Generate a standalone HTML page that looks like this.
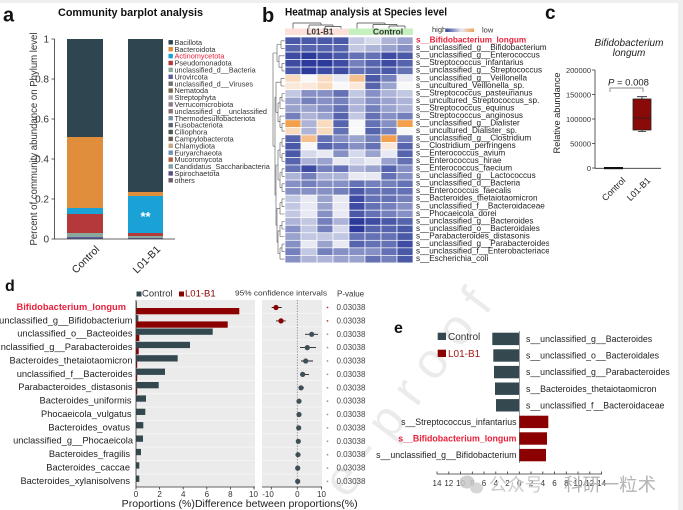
<!DOCTYPE html>
<html><head><meta charset="utf-8">
<style>
html,body{margin:0;padding:0;background:#fff;}
svg{display:block;font-family:"Liberation Sans",Arial,sans-serif;}
.A{fill:#2c3b9b}.B{fill:#3d4ba3}.C{fill:#4a58a8}.D{fill:#5664ae}.E{fill:#6471b4}.F{fill:#7480bc}.G{fill:#8690c4}.H{fill:#9aa2ce}.I{fill:#aeb4d8}.J{fill:#c2c7e2}.K{fill:#d6d9ec}.L{fill:#e8e9f3}.W{fill:#f8f8f8}.O{fill:#f2a04e}.P{fill:#f6c08e}.Q{fill:#f9dcc0}.R{fill:#fae8da}
#hm rect{stroke:#fff;stroke-width:0.7}
</style></head><body>
<svg width="683" height="510" viewBox="0 0 683 510" xmlns="http://www.w3.org/2000/svg">
<defs>
<linearGradient id="lg" x1="0" x2="1" y1="0" y2="0">
<stop offset="0" stop-color="#3a4aa0"/><stop offset="0.55" stop-color="#e6e7f0"/><stop offset="1" stop-color="#f0a050"/>
</linearGradient>
<clipPath id="clb"><rect x="400" y="30" width="149" height="240"/></clipPath>
</defs>
<rect width="683" height="510" fill="#fff"/>
<rect x="0" y="0" width="683" height="3" fill="#efefef"/>
<rect x="678" y="0" width="5" height="510" fill="#efefef"/>

<!-- big watermark -->
<text x="347" y="500" transform="rotate(-53 347 500)" font-size="50" fill="#ebebeb" textLength="244" lengthAdjust="spacing">e-proof</text>

<!-- ============ Panel a ============ -->
<text x="3" y="21.5" font-size="20" font-weight="bold" fill="#111">a</text>
<text x="130.5" y="16" font-size="11" font-weight="bold" text-anchor="middle" textLength="145" lengthAdjust="spacingAndGlyphs" fill="#111">Community barplot analysis</text>
<text transform="translate(37,139) rotate(-90)" font-size="10.5" text-anchor="middle" textLength="213" lengthAdjust="spacingAndGlyphs" fill="#333">Percent of community abundance on Phylum level</text>
<g font-size="10" fill="#333" text-anchor="end">
<text x="49" y="42.5">1</text>
<text x="49" y="82.5">0.8</text>
<text x="49" y="122.5">0.6</text>
<text x="49" y="162.5">0.4</text>
<text x="49" y="202.5">0.2</text>
<text x="49" y="242.5">0</text>
</g>
<!-- bars -->
<rect x="67" y="39" width="36" height="98" fill="#2f4550"/>
<rect x="67" y="137" width="36" height="71" fill="#e08d3c"/>
<rect x="67" y="208" width="36" height="6" fill="#1aa1d6"/>
<rect x="67" y="214" width="36" height="19" fill="#b5383a"/>
<rect x="67" y="233" width="36" height="4" fill="#8aa89c"/>
<rect x="67" y="237" width="36" height="2" fill="#5b5f9e"/>
<rect x="128" y="39" width="35" height="153" fill="#2f4550"/>
<rect x="128" y="192" width="35" height="4" fill="#e08d3c"/>
<rect x="128" y="196" width="35" height="37" fill="#1aa1d6"/>
<rect x="128" y="233" width="35" height="3" fill="#b5383a"/>
<rect x="128" y="236" width="35" height="2" fill="#8aa89c"/>
<rect x="128" y="238" width="35" height="1" fill="#5b5f9e"/>
<text x="145.5" y="221" font-size="13" font-weight="bold" fill="#fff" text-anchor="middle">**</text>
<g stroke="#333" stroke-width="0.8" fill="none">
<path d="M54.5 39V239H175"/>
<path d="M51.5 39H54.5M51.5 79H54.5M51.5 119H54.5M51.5 159H54.5M51.5 199H54.5M51.5 239H54.5"/>
</g>
<text transform="translate(100,250) rotate(-45)" font-size="10.5" text-anchor="end" fill="#222">Control</text>
<text transform="translate(161,250) rotate(-45)" font-size="10.5" text-anchor="end" fill="#222">L01-B1</text>
<!-- legend -->
<g font-size="7.3" fill="#333">
<rect x="168.5" y="40.1" width="4.4" height="4.4" fill="#2f4550"/><text x="174.5" y="44.9">Bacillota</text>
<rect x="168.5" y="47" width="4.4" height="4.4" fill="#e08d3c"/><text x="174.5" y="51.8">Bacteroidota</text>
<rect x="168.5" y="53.9" width="4.4" height="4.4" fill="#1aa1d6"/><text x="174.5" y="58.7" fill="#e8203a">Actinomycetota</text>
<rect x="168.5" y="60.8" width="4.4" height="4.4" fill="#b5383a"/><text x="174.5" y="65.6">Pseudomonadota</text>
<rect x="168.5" y="67.7" width="4.4" height="4.4" fill="#8aa89c"/><text x="174.5" y="72.5">unclassified_d__Bacteria</text>
<rect x="168.5" y="74.6" width="4.4" height="4.4" fill="#5b5f9e"/><text x="174.5" y="79.4">Urovircota</text>
<rect x="168.5" y="81.5" width="4.4" height="4.4" fill="#707070"/><text x="174.5" y="86.3">unclassified_d__Viruses</text>
<rect x="168.5" y="88.4" width="4.4" height="4.4" fill="#7d6b52"/><text x="174.5" y="93.2">Nematoda</text>
<rect x="168.5" y="95.3" width="4.4" height="4.4" fill="#a8a8a8"/><text x="174.5" y="100.1">Streptophyta</text>
<rect x="168.5" y="102.2" width="4.4" height="4.4" fill="#8c7c8c"/><text x="174.5" y="107">Verrucomicrobiota</text>
<rect x="168.5" y="109.1" width="4.4" height="4.4" fill="#8e7272"/><text x="174.5" y="113.9">unclassified_d__unclassified</text>
<rect x="168.5" y="116" width="4.4" height="4.4" fill="#7f90a6"/><text x="174.5" y="120.8">Thermodesulfobacteriota</text>
<rect x="168.5" y="122.9" width="4.4" height="4.4" fill="#5e6272"/><text x="174.5" y="127.7">Fusobacteriota</text>
<rect x="168.5" y="129.8" width="4.4" height="4.4" fill="#4e5a52"/><text x="174.5" y="134.6">Ciliophora</text>
<rect x="168.5" y="136.7" width="4.4" height="4.4" fill="#6c5c52"/><text x="174.5" y="141.5">Campylobacterota</text>
<rect x="168.5" y="143.6" width="4.4" height="4.4" fill="#c6a684"/><text x="174.5" y="148.4">Chlamydiota</text>
<rect x="168.5" y="150.5" width="4.4" height="4.4" fill="#7294b4"/><text x="174.5" y="155.3">Euryarchaeota</text>
<rect x="168.5" y="157.4" width="4.4" height="4.4" fill="#b0603e"/><text x="174.5" y="162.2">Mucoromycota</text>
<rect x="168.5" y="164.3" width="4.4" height="4.4" fill="#7ea2a2"/><text x="174.5" y="169.1">Candidatus_Saccharibacteria</text>
<rect x="168.5" y="171.2" width="4.4" height="4.4" fill="#5c4e80"/><text x="174.5" y="176">Spirochaetota</text>
<rect x="168.5" y="178.1" width="4.4" height="4.4" fill="#6e5e6e"/><text x="174.5" y="182.9">others</text>
</g>

<!-- ============ Panel b ============ -->
<text x="262" y="22" font-size="20" font-weight="bold" fill="#111">b</text>
<text x="285" y="15.5" font-size="11" font-weight="bold" textLength="162" lengthAdjust="spacingAndGlyphs" fill="#111">Heatmap analysis at Species level</text>
<path d="M325 29V26.5M341 29V26.5M325 26.5H341M309 29V25M333 26.5V25M309 25H333M293 29V23M321 25V23M293 23H321M389 29V26M405 29V26M389 26H405M373 29V24.5M397 26V24.5M373 24.5H397M357 29V23M385 24.5V23M357 23H385" stroke="#444" stroke-width="0.7" fill="none"/>
<rect x="285" y="28.5" width="64" height="6.5" fill="#fde0da"/>
<rect x="349" y="28.5" width="64" height="6.5" fill="#c6f1bf"/>
<text x="320" y="34.3" font-size="8" font-weight="bold" text-anchor="middle" fill="#333">L01-B1</text>
<text x="388" y="34.3" font-size="8.5" font-weight="bold" text-anchor="middle" fill="#333">Control</text>
<text x="432" y="32" font-size="7.5" fill="#333">high</text>
<rect x="446" y="28.5" width="28" height="3.5" fill="url(#lg)"/>
<text x="482" y="32.5" font-size="7.5" fill="#333">low</text>
<path d="M285 40.8H281M285 48.3H281M281 40.8V48.3M285 63.4H282M285 70.9H282M282 63.4V70.9M285 55.8H279M282 67.2H279M279 55.8V67.2M281 44.5H277M279 61.5H277M277 44.5V61.5M285 78.4H281M285 86H281M281 78.4V86M285 93.5H282M285 101H282M282 93.5V101M285 108.5H280M282 97.3H280M280 97.3V108.5M285 123.6H282M285 131.1H282M282 123.6V131.1M285 116.1H280M282 127.4H280M280 116.1V127.4M280 102.9H278M280 121.7H278M278 102.9V121.7M281 82.2H276M278 112.3H276M276 82.2V112.3M285 138.7H282M285 146.2H282M282 138.7V146.2M285 153.7H282M285 161.3H282M282 153.7V161.3M282 142.5H280M282 157.5H280M280 142.5V157.5M285 168.8H282M285 176.3H282M282 168.8V176.3M285 183.8H282M285 191.4H282M282 183.8V191.4M282 172.5H280M282 187.6H280M280 172.5V187.6M280 150H278M280 180H278M278 150V180M285 198.9H282M285 206.4H282M282 198.9V206.4M285 214H280M282 202.7H280M280 202.7V214M285 221.5H282M285 229H282M282 221.5V229M285 236.5H280M282 225.3H280M280 225.3V236.5M285 244.1H282M285 251.6H282M282 244.1V251.6M285 259.1H280M282 247.9H280M280 247.9V259.1M280 230.9H278M280 253.5H278M278 230.9V253.5M280 208.3H277M278 242.2H277M277 208.3V242.2M278 165H276M277 225.3H276M276 165V225.3M276 97.2H275M276 195.1H275M275 97.2V195.1M277 53H273M275 146.2H273M273 53V146.2" stroke="#555" stroke-width="0.6" fill="none"/>
<g id="hm">
<g transform="translate(285,37)"><rect class="C" x="0" width="16" height="7.53"/><rect class="C" x="16" width="16" height="7.53"/><rect class="C" x="32" width="16" height="7.53"/><rect class="C" x="48" width="16" height="7.53"/><rect class="J" x="64" width="16" height="7.53"/><rect class="K" x="80" width="16" height="7.53"/><rect class="I" x="96" width="16" height="7.53"/><rect class="H" x="112" width="16" height="7.53"/></g>
<g transform="translate(285,44.53)"><rect class="D" x="0" width="16" height="7.53"/><rect class="D" x="16" width="16" height="7.53"/><rect class="D" x="32" width="16" height="7.53"/><rect class="D" x="48" width="16" height="7.53"/><rect class="J" x="64" width="16" height="7.53"/><rect class="I" x="80" width="16" height="7.53"/><rect class="H" x="96" width="16" height="7.53"/><rect class="G" x="112" width="16" height="7.53"/></g>
<g transform="translate(285,52.06)"><rect class="B" x="0" width="16" height="7.53"/><rect class="A" x="16" width="16" height="7.53"/><rect class="B" x="32" width="16" height="7.53"/><rect class="C" x="48" width="16" height="7.53"/><rect class="E" x="64" width="16" height="7.53"/><rect class="E" x="80" width="16" height="7.53"/><rect class="B" x="96" width="16" height="7.53"/><rect class="C" x="112" width="16" height="7.53"/></g>
<g transform="translate(285,59.59)"><rect class="B" x="0" width="16" height="7.53"/><rect class="A" x="16" width="16" height="7.53"/><rect class="A" x="32" width="16" height="7.53"/><rect class="B" x="48" width="16" height="7.53"/><rect class="F" x="64" width="16" height="7.53"/><rect class="D" x="80" width="16" height="7.53"/><rect class="B" x="96" width="16" height="7.53"/><rect class="D" x="112" width="16" height="7.53"/></g>
<g transform="translate(285,67.12)"><rect class="C" x="0" width="16" height="7.53"/><rect class="A" x="16" width="16" height="7.53"/><rect class="B" x="32" width="16" height="7.53"/><rect class="B" x="48" width="16" height="7.53"/><rect class="E" x="64" width="16" height="7.53"/><rect class="D" x="80" width="16" height="7.53"/><rect class="C" x="96" width="16" height="7.53"/><rect class="E" x="112" width="16" height="7.53"/></g>
<g transform="translate(285,74.65)"><rect class="Q" x="0" width="16" height="7.53"/><rect class="W" x="16" width="16" height="7.53"/><rect class="Q" x="32" width="16" height="7.53"/><rect class="L" x="48" width="16" height="7.53"/><rect class="P" x="64" width="16" height="7.53"/><rect class="C" x="80" width="16" height="7.53"/><rect class="F" x="96" width="16" height="7.53"/><rect class="L" x="112" width="16" height="7.53"/></g>
<g transform="translate(285,82.18)"><rect class="R" x="0" width="16" height="7.53"/><rect class="R" x="16" width="16" height="7.53"/><rect class="Q" x="32" width="16" height="7.53"/><rect class="W" x="48" width="16" height="7.53"/><rect class="R" x="64" width="16" height="7.53"/><rect class="D" x="80" width="16" height="7.53"/><rect class="H" x="96" width="16" height="7.53"/><rect class="W" x="112" width="16" height="7.53"/></g>
<g transform="translate(285,89.71)"><rect class="J" x="0" width="16" height="7.53"/><rect class="G" x="16" width="16" height="7.53"/><rect class="G" x="32" width="16" height="7.53"/><rect class="E" x="48" width="16" height="7.53"/><rect class="J" x="64" width="16" height="7.53"/><rect class="G" x="80" width="16" height="7.53"/><rect class="I" x="96" width="16" height="7.53"/><rect class="J" x="112" width="16" height="7.53"/></g>
<g transform="translate(285,97.24)"><rect class="H" x="0" width="16" height="7.53"/><rect class="F" x="16" width="16" height="7.53"/><rect class="G" x="32" width="16" height="7.53"/><rect class="F" x="48" width="16" height="7.53"/><rect class="I" x="64" width="16" height="7.53"/><rect class="G" x="80" width="16" height="7.53"/><rect class="H" x="96" width="16" height="7.53"/><rect class="I" x="112" width="16" height="7.53"/></g>
<g transform="translate(285,104.77)"><rect class="H" x="0" width="16" height="7.53"/><rect class="H" x="16" width="16" height="7.53"/><rect class="G" x="32" width="16" height="7.53"/><rect class="E" x="48" width="16" height="7.53"/><rect class="I" x="64" width="16" height="7.53"/><rect class="F" x="80" width="16" height="7.53"/><rect class="H" x="96" width="16" height="7.53"/><rect class="I" x="112" width="16" height="7.53"/></g>
<g transform="translate(285,112.3)"><rect class="F" x="0" width="16" height="7.53"/><rect class="I" x="16" width="16" height="7.53"/><rect class="H" x="32" width="16" height="7.53"/><rect class="D" x="48" width="16" height="7.53"/><rect class="J" x="64" width="16" height="7.53"/><rect class="E" x="80" width="16" height="7.53"/><rect class="G" x="96" width="16" height="7.53"/><rect class="F" x="112" width="16" height="7.53"/></g>
<g transform="translate(285,119.83)"><rect class="O" x="0" width="16" height="7.53"/><rect class="I" x="16" width="16" height="7.53"/><rect class="Q" x="32" width="16" height="7.53"/><rect class="D" x="48" width="16" height="7.53"/><rect class="W" x="64" width="16" height="7.53"/><rect class="E" x="80" width="16" height="7.53"/><rect class="G" x="96" width="16" height="7.53"/><rect class="O" x="112" width="16" height="7.53"/></g>
<g transform="translate(285,127.36)"><rect class="Q" x="0" width="16" height="7.53"/><rect class="I" x="16" width="16" height="7.53"/><rect class="Q" x="32" width="16" height="7.53"/><rect class="E" x="48" width="16" height="7.53"/><rect class="W" x="64" width="16" height="7.53"/><rect class="D" x="80" width="16" height="7.53"/><rect class="F" x="96" width="16" height="7.53"/><rect class="W" x="112" width="16" height="7.53"/></g>
<g transform="translate(285,134.89)"><rect class="D" x="0" width="16" height="7.53"/><rect class="P" x="16" width="16" height="7.53"/><rect class="E" x="32" width="16" height="7.53"/><rect class="G" x="48" width="16" height="7.53"/><rect class="H" x="64" width="16" height="7.53"/><rect class="F" x="80" width="16" height="7.53"/><rect class="O" x="96" width="16" height="7.53"/><rect class="F" x="112" width="16" height="7.53"/></g>
<g transform="translate(285,142.42)"><rect class="C" x="0" width="16" height="7.53"/><rect class="W" x="16" width="16" height="7.53"/><rect class="D" x="32" width="16" height="7.53"/><rect class="E" x="48" width="16" height="7.53"/><rect class="G" x="64" width="16" height="7.53"/><rect class="E" x="80" width="16" height="7.53"/><rect class="R" x="96" width="16" height="7.53"/><rect class="D" x="112" width="16" height="7.53"/></g>
<g transform="translate(285,149.95)"><rect class="C" x="0" width="16" height="7.53"/><rect class="K" x="16" width="16" height="7.53"/><rect class="L" x="32" width="16" height="7.53"/><rect class="G" x="48" width="16" height="7.53"/><rect class="K" x="64" width="16" height="7.53"/><rect class="H" x="80" width="16" height="7.53"/><rect class="L" x="96" width="16" height="7.53"/><rect class="D" x="112" width="16" height="7.53"/></g>
<g transform="translate(285,157.48)"><rect class="D" x="0" width="16" height="7.53"/><rect class="I" x="16" width="16" height="7.53"/><rect class="H" x="32" width="16" height="7.53"/><rect class="L" x="48" width="16" height="7.53"/><rect class="K" x="64" width="16" height="7.53"/><rect class="L" x="80" width="16" height="7.53"/><rect class="H" x="96" width="16" height="7.53"/><rect class="E" x="112" width="16" height="7.53"/></g>
<g transform="translate(285,165.01)"><rect class="E" x="0" width="16" height="7.53"/><rect class="B" x="16" width="16" height="7.53"/><rect class="F" x="32" width="16" height="7.53"/><rect class="E" x="48" width="16" height="7.53"/><rect class="I" x="64" width="16" height="7.53"/><rect class="H" x="80" width="16" height="7.53"/><rect class="D" x="96" width="16" height="7.53"/><rect class="G" x="112" width="16" height="7.53"/></g>
<g transform="translate(285,172.54)"><rect class="I" x="0" width="16" height="7.53"/><rect class="F" x="16" width="16" height="7.53"/><rect class="I" x="32" width="16" height="7.53"/><rect class="I" x="48" width="16" height="7.53"/><rect class="L" x="64" width="16" height="7.53"/><rect class="L" x="80" width="16" height="7.53"/><rect class="E" x="96" width="16" height="7.53"/><rect class="G" x="112" width="16" height="7.53"/></g>
<g transform="translate(285,180.07)"><rect class="G" x="0" width="16" height="7.53"/><rect class="F" x="16" width="16" height="7.53"/><rect class="G" x="32" width="16" height="7.53"/><rect class="G" x="48" width="16" height="7.53"/><rect class="E" x="64" width="16" height="7.53"/><rect class="F" x="80" width="16" height="7.53"/><rect class="F" x="96" width="16" height="7.53"/><rect class="E" x="112" width="16" height="7.53"/></g>
<g transform="translate(285,187.6)"><rect class="G" x="0" width="16" height="7.53"/><rect class="G" x="16" width="16" height="7.53"/><rect class="G" x="32" width="16" height="7.53"/><rect class="F" x="48" width="16" height="7.53"/><rect class="C" x="64" width="16" height="7.53"/><rect class="E" x="80" width="16" height="7.53"/><rect class="E" x="96" width="16" height="7.53"/><rect class="E" x="112" width="16" height="7.53"/></g>
<g transform="translate(285,195.13)"><rect class="J" x="0" width="16" height="7.53"/><rect class="L" x="16" width="16" height="7.53"/><rect class="H" x="32" width="16" height="7.53"/><rect class="L" x="48" width="16" height="7.53"/><rect class="B" x="64" width="16" height="7.53"/><rect class="E" x="80" width="16" height="7.53"/><rect class="E" x="96" width="16" height="7.53"/><rect class="F" x="112" width="16" height="7.53"/></g>
<g transform="translate(285,202.66)"><rect class="J" x="0" width="16" height="7.53"/><rect class="L" x="16" width="16" height="7.53"/><rect class="H" x="32" width="16" height="7.53"/><rect class="L" x="48" width="16" height="7.53"/><rect class="B" x="64" width="16" height="7.53"/><rect class="E" x="80" width="16" height="7.53"/><rect class="F" x="96" width="16" height="7.53"/><rect class="G" x="112" width="16" height="7.53"/></g>
<g transform="translate(285,210.19)"><rect class="J" x="0" width="16" height="7.53"/><rect class="L" x="16" width="16" height="7.53"/><rect class="G" x="32" width="16" height="7.53"/><rect class="L" x="48" width="16" height="7.53"/><rect class="C" x="64" width="16" height="7.53"/><rect class="E" x="80" width="16" height="7.53"/><rect class="F" x="96" width="16" height="7.53"/><rect class="G" x="112" width="16" height="7.53"/></g>
<g transform="translate(285,217.72)"><rect class="I" x="0" width="16" height="7.53"/><rect class="J" x="16" width="16" height="7.53"/><rect class="F" x="32" width="16" height="7.53"/><rect class="I" x="48" width="16" height="7.53"/><rect class="A" x="64" width="16" height="7.53"/><rect class="B" x="80" width="16" height="7.53"/><rect class="C" x="96" width="16" height="7.53"/><rect class="D" x="112" width="16" height="7.53"/></g>
<g transform="translate(285,225.25)"><rect class="G" x="0" width="16" height="7.53"/><rect class="J" x="16" width="16" height="7.53"/><rect class="F" x="32" width="16" height="7.53"/><rect class="K" x="48" width="16" height="7.53"/><rect class="A" x="64" width="16" height="7.53"/><rect class="D" x="80" width="16" height="7.53"/><rect class="D" x="96" width="16" height="7.53"/><rect class="C" x="112" width="16" height="7.53"/></g>
<g transform="translate(285,232.78)"><rect class="H" x="0" width="16" height="7.53"/><rect class="J" x="16" width="16" height="7.53"/><rect class="J" x="32" width="16" height="7.53"/><rect class="J" x="48" width="16" height="7.53"/><rect class="E" x="64" width="16" height="7.53"/><rect class="E" x="80" width="16" height="7.53"/><rect class="E" x="96" width="16" height="7.53"/><rect class="C" x="112" width="16" height="7.53"/></g>
<g transform="translate(285,240.31)"><rect class="G" x="0" width="16" height="7.53"/><rect class="L" x="16" width="16" height="7.53"/><rect class="H" x="32" width="16" height="7.53"/><rect class="L" x="48" width="16" height="7.53"/><rect class="D" x="64" width="16" height="7.53"/><rect class="E" x="80" width="16" height="7.53"/><rect class="E" x="96" width="16" height="7.53"/><rect class="B" x="112" width="16" height="7.53"/></g>
<g transform="translate(285,247.84)"><rect class="F" x="0" width="16" height="7.53"/><rect class="J" x="16" width="16" height="7.53"/><rect class="F" x="32" width="16" height="7.53"/><rect class="G" x="48" width="16" height="7.53"/><rect class="G" x="64" width="16" height="7.53"/><rect class="G" x="80" width="16" height="7.53"/><rect class="E" x="96" width="16" height="7.53"/><rect class="C" x="112" width="16" height="7.53"/></g>
<g transform="translate(285,255.37)"><rect class="G" x="0" width="16" height="7.53"/><rect class="I" x="16" width="16" height="7.53"/><rect class="I" x="32" width="16" height="7.53"/><rect class="H" x="48" width="16" height="7.53"/><rect class="H" x="64" width="16" height="7.53"/><rect class="E" x="80" width="16" height="7.53"/><rect class="F" x="96" width="16" height="7.53"/><rect class="C" x="112" width="16" height="7.53"/></g>
</g>
<g font-size="8.2" fill="#222" clip-path="url(#clb)">
<text x="416" y="42.6" fill="#e8203a" font-weight="bold">s__Bifidobacterium_longum</text>
<text x="416" y="50.1">s__unclassified_g__Bifidobacterium</text>
<text x="416" y="57.7">s__unclassified_g__Enterococcus</text>
<text x="416" y="65.2">s__Streptococcus_infantarius</text>
<text x="416" y="72.7">s__unclassified_g__Streptococcus</text>
<text x="416" y="80.3">s__unclassified_g__Veillonella</text>
<text x="416" y="87.8">s__uncultured_Veillonella_sp.</text>
<text x="416" y="95.3">s__Streptococcus_pasteurianus</text>
<text x="416" y="102.8">s__uncultured_Streptococcus_sp.</text>
<text x="416" y="110.4">s__Streptococcus_equinus</text>
<text x="416" y="117.9">s__Streptococcus_anginosus</text>
<text x="416" y="125.4">s__unclassified_g__Dialister</text>
<text x="416" y="133">s__uncultured_Dialister_sp.</text>
<text x="416" y="140.5">s__unclassified_g__Clostridium</text>
<text x="416" y="148">s__Clostridium_perfringens</text>
<text x="416" y="155.6">s__Enterococcus_avium</text>
<text x="416" y="163.1">s__Enterococcus_hirae</text>
<text x="416" y="170.6">s__Enterococcus_faecium</text>
<text x="416" y="178.1">s__unclassified_g__Lactococcus</text>
<text x="416" y="185.7">s__unclassified_d__Bacteria</text>
<text x="416" y="193.2">s__Enterococcus_faecalis</text>
<text x="416" y="200.7">s__Bacteroides_thetaiotaomicron</text>
<text x="416" y="208.3">s__unclassified_f__Bacteroidaceae</text>
<text x="416" y="215.8">s__Phocaeicola_dorei</text>
<text x="416" y="223.3">s__unclassified_g__Bacteroides</text>
<text x="416" y="230.9">s__unclassified_o__Bacteroidales</text>
<text x="416" y="238.4">s__Parabacteroides_distasonis</text>
<text x="416" y="245.9">s__unclassified_g__Parabacteroides</text>
<text x="416" y="253.4">s__unclassified_f__Enterobacteriaceae</text>
<text x="416" y="261">s__Escherichia_coli</text>
</g>

<!-- ============ Panel c ============ -->
<text x="545" y="19" font-size="19" font-weight="bold" fill="#111">c</text>
<text x="629" y="46" font-size="10" font-style="italic" text-anchor="middle" fill="#222">Bifidobacterium</text>
<text x="629" y="56" font-size="10" font-style="italic" text-anchor="middle" fill="#222">longum</text>
<text transform="translate(560,113) rotate(-90)" font-size="9" text-anchor="middle" textLength="81" lengthAdjust="spacingAndGlyphs" fill="#222">Relative abundance</text>
<g font-size="7.5" fill="#333" text-anchor="end">
<text x="591" y="72.8">200000</text>
<text x="591" y="97.3">150000</text>
<text x="591" y="121.8">100000</text>
<text x="591" y="146.3">50000</text>
<text x="591" y="170.8">0</text>
</g>
<g stroke="#333" stroke-width="0.8" fill="none">
<path d="M595 70V168.3H661"/>
<path d="M592 70H595M592 94.5H595M592 119H595M592 143.5H595M592 168H595"/>
</g>
<rect x="604" y="167" width="19" height="2.2" fill="#111"/>
<path d="M642 99V96.7M637 96.7H647M642 130V131.5M638 131.5H646" stroke="#222" stroke-width="0.8"/>
<rect x="633" y="99" width="18" height="31" fill="#8a0a0a" stroke="#222" stroke-width="0.8"/>
<line x1="633" y1="118" x2="651" y2="118" stroke="#222" stroke-width="0.8"/>
<path d="M610 92V88H643V92" stroke="#8a8a8a" stroke-width="0.9" fill="none"/>
<text x="608" y="85.5" font-size="9.5" fill="#222"><tspan font-style="italic">P</tspan> = 0.008</text>
<text transform="translate(626,181) rotate(-45)" font-size="9" text-anchor="end" fill="#222">Control</text>
<text transform="translate(651,181) rotate(-45)" font-size="9" text-anchor="end" fill="#222">L01-B1</text>

<!-- ============ Panel d ============ -->
<text x="5" y="291" font-size="16" font-weight="bold" fill="#111">d</text>
<rect x="136.5" y="291.5" width="5" height="5" fill="#34494f"/>
<text x="142" y="296.5" font-size="9.5" fill="#333">Control</text>
<rect x="179" y="291.5" width="5" height="5" fill="#8b0000"/>
<text x="185" y="296.5" font-size="9.5" fill="#8b0000">L01-B1</text>
<text x="235" y="295.5" font-size="7.6" fill="#333" textLength="92" lengthAdjust="spacingAndGlyphs">95% confidence intervals</text>
<text x="337" y="296.5" font-size="8" fill="#333">P-value</text>
<rect x="136" y="300" width="119" height="187" fill="#ebebeb"/>
<rect x="262" y="300" width="60" height="187" fill="#ebebeb"/>
<g stroke="#f7f7f7" stroke-width="0.8">
<path d="M136 313.4H255M136 326.8H255M136 340.2H255M136 353.5H255M136 366.9H255M136 380.3H255M136 393.7H255M136 407H255M136 420.4H255M136 433.8H255M136 447.2H255M136 460.6H255M136 474H255"/>
<path d="M262 313.4H322M262 326.8H322M262 340.2H322M262 353.5H322M262 366.9H322M262 380.3H322M262 393.7H322M262 407H322M262 420.4H322M262 433.8H322M262 447.2H322M262 460.6H322M262 474H322"/>
</g>
<g fill="#34494f">
<rect x="136" y="301.7" width="0.8" height="6.3"/>
<rect x="136" y="315.1" width="2.3" height="6.3"/>
<rect x="136" y="328.5" width="76.7" height="6.3"/>
<rect x="136" y="341.8" width="54" height="6.3"/>
<rect x="136" y="355.2" width="41.7" height="6.3"/>
<rect x="136" y="368.6" width="29" height="6.3"/>
<rect x="136" y="382" width="22.7" height="6.3"/>
<rect x="136" y="395.4" width="10" height="6.3"/>
<rect x="136" y="408.7" width="9.3" height="6.3"/>
<rect x="136" y="422.1" width="7.3" height="6.3"/>
<rect x="136" y="435.5" width="7" height="6.3"/>
<rect x="136" y="448.9" width="5" height="6.3"/>
<rect x="136" y="462.3" width="3.3" height="6.3"/>
<rect x="136" y="475.6" width="3.3" height="6.3"/>
</g>
<g fill="#8b0000">
<rect x="136" y="308" width="103.3" height="6.3"/>
<rect x="136" y="321.4" width="91.7" height="6.3"/>
<rect x="136" y="334.8" width="3.3" height="6.3"/>
<rect x="136" y="348.1" width="2.7" height="6.3"/>
<rect x="136" y="361.5" width="1.2" height="6.3"/>
<rect x="136" y="374.9" width="1.2" height="6.3"/>
<rect x="136" y="388.3" width="1.2" height="6.3"/>
</g>
<g stroke="#333" stroke-width="0.8" fill="none">
<path d="M136 300V487H255"/>
<path d="M136 487V489.5M159.6 487V489.5M183.2 487V489.5M206.8 487V489.5M230.4 487V489.5M254 487V489.5"/>
<path d="M262 487H322M271.3 487V489.5M297.3 487V489.5M321.5 487V489.5"/>
</g>
<g font-size="8" fill="#333" text-anchor="middle">
<text x="136" y="497">0</text><text x="159.6" y="497">2</text><text x="183.2" y="497">4</text><text x="206.8" y="497">6</text><text x="230.4" y="497">8</text><text x="253.5" y="497">10</text>
<text x="268" y="497">-10</text><text x="297.3" y="497">0</text><text x="321.5" y="497">10</text>
</g>
<line x1="297.3" y1="300" x2="297.3" y2="487" stroke="#777" stroke-width="0.8" stroke-dasharray="1.2,1.5"/>
<g stroke="#222" stroke-width="0.9">
<path d="M271.7 307.5H281.7M276 320.9H285.7M305 334.3H318M300 347.6H316M301 361H313M300 374.4H309M299 387.8H304M298 401.2H300.5"/>
</g>
<g fill="#8b0000"><circle cx="276" cy="307.5" r="2.6"/><circle cx="281" cy="320.9" r="2.6"/></g>
<g fill="#3e4f55">
<circle cx="311.7" cy="334.3" r="2.6"/><circle cx="307.3" cy="347.6" r="2.6"/><circle cx="305.7" cy="361" r="2.6"/><circle cx="302.7" cy="374.4" r="2.6"/><circle cx="301" cy="387.8" r="2.6"/><circle cx="299" cy="401.2" r="2.6"/><circle cx="299" cy="414.5" r="2.6"/><circle cx="298.7" cy="427.9" r="2.6"/><circle cx="298.3" cy="441.3" r="2.6"/><circle cx="298" cy="454.7" r="2.6"/><circle cx="297.7" cy="468.1" r="2.6"/><circle cx="297.7" cy="481.4" r="2.6"/>
</g>
<g fill="#c0392b"><circle cx="327.5" cy="307.5" r="0.9"/><circle cx="327.5" cy="320.9" r="0.9"/></g>
<g fill="#999"><circle cx="327.5" cy="334.3" r="0.9"/><circle cx="327.5" cy="347.6" r="0.9"/><circle cx="327.5" cy="361" r="0.9"/><circle cx="327.5" cy="374.4" r="0.9"/><circle cx="327.5" cy="387.8" r="0.9"/><circle cx="327.5" cy="401.2" r="0.9"/><circle cx="327.5" cy="414.5" r="0.9"/><circle cx="327.5" cy="427.9" r="0.9"/><circle cx="327.5" cy="441.3" r="0.9"/><circle cx="327.5" cy="454.7" r="0.9"/><circle cx="327.5" cy="468.1" r="0.9"/><circle cx="327.5" cy="481.4" r="0.9"/></g>
<g font-size="8" fill="#444">
<text x="336.5" y="310">0.03038</text><text x="336.5" y="323.4">0.03038</text><text x="336.5" y="336.8">0.03038</text><text x="336.5" y="350.1">0.03038</text><text x="336.5" y="363.5">0.03038</text><text x="336.5" y="376.9">0.03038</text><text x="336.5" y="390.3">0.03038</text><text x="336.5" y="403.7">0.03038</text><text x="336.5" y="417">0.03038</text><text x="336.5" y="430.4">0.03038</text><text x="336.5" y="443.8">0.03038</text><text x="336.5" y="457.2">0.03038</text><text x="336.5" y="470.6">0.03038</text><text x="336.5" y="483.9">0.03038</text>
</g>
<g font-size="9.3" fill="#222" text-anchor="end">
<text x="126" y="309.9" fill="#e8203a" font-weight="bold">Bifidobacterium_longum</text>
<text x="132.5" y="323.3">unclassified_g__Bifidobacterium</text>
<text x="132.5" y="336.7">unclassified_o__Bacteoides</text>
<text x="132.5" y="350">unclassified_g__Parabacteroides</text>
<text x="132.5" y="363.4">Bacteroides_thetaiotaomicron</text>
<text x="132.5" y="376.8">unclassified_f__Bacteroides</text>
<text x="132.5" y="390.2">Parabacteroides_distasonis</text>
<text x="131.5" y="403.6">Bacteroides_uniformis</text>
<text x="131.5" y="416.9">Phocaeicola_vulgatus</text>
<text x="130" y="430.3">Bacteroides_ovatus</text>
<text x="133" y="443.7">unclassified_g__Phocaeicola</text>
<text x="130" y="457.1">Bacteroides_fragilis</text>
<text x="130" y="470.5">Bacteroides_caccae</text>
<text x="130" y="483.8">Bacteroides_xylanisolvens</text>
</g>
<text x="121.7" y="507" font-size="10.5" fill="#222" textLength="236" lengthAdjust="spacingAndGlyphs">Proportions (%)Difference between proportions(%)</text>

<!-- ============ Panel e ============ -->
<text x="394" y="333" font-size="16" font-weight="bold" fill="#111">e</text>
<rect x="437.7" y="332.7" width="8.3" height="7.3" fill="#34494f"/>
<text x="448" y="340" font-size="10" fill="#333">Control</text>
<rect x="437.7" y="349.7" width="8.3" height="7.3" fill="#8b0000"/>
<text x="448" y="357" font-size="10" fill="#a01818">L01-B1</text>
<g fill="#34494f">
<rect x="492.3" y="332.7" width="27" height="12.4"/>
<rect x="493.3" y="349.3" width="26" height="12.4"/>
<rect x="494" y="365.9" width="25.3" height="12.4"/>
<rect x="495" y="382.5" width="24.3" height="12.4"/>
<rect x="496" y="399.1" width="23.3" height="12.4"/>
</g>
<g fill="#8b0000">
<rect x="519.3" y="415.7" width="29" height="12.4"/>
<rect x="519.3" y="432.3" width="27.7" height="12.4"/>
<rect x="519.3" y="448.9" width="26.7" height="12.4"/>
</g>
<line x1="519.3" y1="331" x2="519.3" y2="463" stroke="#555" stroke-width="0.6"/>
<g font-size="8.8" fill="#222">
<text x="526" y="342">s__unclassified_g__Bacteroides</text>
<text x="526" y="358.6">s__unclassified_o__Bacteroidales</text>
<text x="526" y="375.2">s__unclassified_g__Parabacteroides</text>
<text x="526" y="391.8">s__Bacteroides_thetaiotaomicron</text>
<text x="526" y="408.4">s__unclassified_f__Bacteroidaceae</text>
</g>
<g font-size="8.8" fill="#222" text-anchor="end">
<text x="516.5" y="425">s__Streptococcus_infantarius</text>
<text x="516.5" y="441.6" fill="#e8203a" font-weight="bold">s__Bifidobacterium_longum</text>
<text x="516.5" y="458.2">s__unclassified_g__Bifidobacterium</text>
</g>
<g stroke="#333" stroke-width="0.8" fill="none">
<path d="M437 474H602"/>
<path d="M437 471.5V474M448.8 471.5V474M460.5 471.5V474M472.3 471.5V474M484 471.5V474M495.8 471.5V474M507.5 471.5V474M519.3 471.5V474M531 471.5V474M542.8 471.5V474M554.5 471.5V474M566.3 471.5V474M578 471.5V474M589.8 471.5V474M601.6 471.5V474"/>
</g>
<g font-size="8" fill="#333" text-anchor="middle">
<text x="437" y="486">14</text><text x="448.8" y="486">12</text><text x="460.5" y="486">10</text><text x="472.3" y="486">8</text><text x="484" y="486">6</text><text x="495.8" y="486">4</text><text x="507.5" y="486">2</text><text x="519.3" y="486">0</text><text x="531" y="486">2</text><text x="542.8" y="486">4</text><text x="554.5" y="486">6</text><text x="566.3" y="486">8</text><text x="578" y="486">10</text><text x="589.8" y="486">12</text><text x="601.6" y="486">14</text>
</g>
<g opacity="0.85">
<ellipse cx="467" cy="482" rx="7.5" ry="6.5" fill="#c8c8c8"/>
<ellipse cx="476.5" cy="488" rx="6.5" ry="5.5" fill="#d0d0d0"/>
<text x="489" y="491" font-size="18" fill="#c2c2c2" font-family="'Liberation Sans','Noto Sans CJK SC',sans-serif">公众号</text>
<text x="564" y="491" font-size="18.4" fill="#a8a8a8" font-family="'Liberation Sans','Noto Sans CJK SC',sans-serif">科研一粒术</text>
</g>
</svg>
</body></html>
